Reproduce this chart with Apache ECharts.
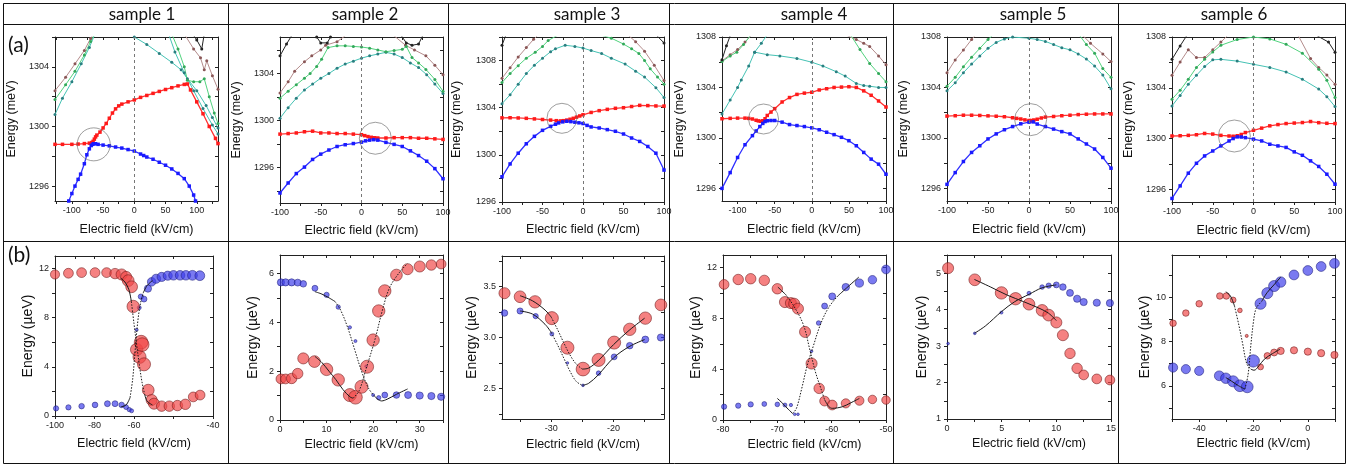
<!DOCTYPE html>
<html><head><meta charset="utf-8">
<script src="https://cdn.jsdelivr.net/npm/echarts@6/dist/echarts.min.js"></script>
<style>html,body{margin:0;padding:0;background:#fff}#c{width:1366px;height:466px}</style>
</head><body><div id="c"></div>
<script>
// ---------------- DATA ----------------
const SAMPLES = ['sample 1','sample 2','sample 3','sample 4','sample 5','sample 6'];
const ROW_LABELS = ['(a)','(b)'];
const X_NAME = 'Electric field (kV/cm)';
const YA_NAME = 'Energy (meV)';
const YB_NAME = 'Energy (\u00b5eV)';

// tick labels
const A_XLABELS = [-100,-50,0,50,100];
const A12_YLABELS = [1296,1300,1304];
const A36_YLABELS = [1296,1300,1304,1308];
const B1_XLABEL_AT = [-100,-85,-70,-40];
const B1_XLABEL_TEXT = ['-100','-80','-60','-40'];
const B1_XTICKS = [-100,-92.5,-85,-77.5,-70,-55,-40];
const B1_YLABELS = [0,4,8,12];
const B2_XLABELS = [0,10,20,30];
const B2_YLABELS = [0,2,4,6];
const B3_XLABELS = [-30,-20];
const B3_YLABELS = [2.5,3.0,3.5];
const B4_XLABELS = [-80,-70,-60,-50];
const B4_YLABELS = [0,4,8,12];
const B5_XLABELS = [0,5,10,15];
const B5_YLABELS = [1,2,3,4,5];
const B6_XLABELS = [-40,-20,0];
const B6_YLABELS = [6,8,10];

// ---- panel (a) sample 1 ----
const A1_RED = [[-127,1298.8],[-115,1298.8],[-100,1298.8],[-90,1298.82],[-80,1298.85],[-72,1298.88],[-68,1298.92],[-66,1299.0],[-64,1299.15],[-62,1299.3],[-60,1299.42],[-55,1299.62],[-50,1299.9],[-45,1300.2],[-40,1300.55],[-35,1300.9],[-30,1301.18],[-25,1301.38],[-20,1301.5],[-10,1301.65],[0,1301.78],[10,1301.95],[20,1302.08],[30,1302.22],[40,1302.35],[50,1302.48],[60,1302.6],[70,1302.72],[80,1302.82],[85,1302.85],[90,1302.45],[100,1301.65],[110,1300.85],[120,1300.0],[130,1299.2],[134,1298.85]];
const A1_BLUE = [[-105,1295.0],[-100,1295.5],[-95,1296.0],[-90,1296.45],[-86,1296.8],[-80,1297.5],[-76,1298.1],[-72,1298.5],[-69,1298.72],[-67,1298.8],[-65,1298.84],[-62,1298.84],[-58,1298.8],[-50,1298.75],[-40,1298.7],[-30,1298.62],[-20,1298.55],[-10,1298.45],[0,1298.35],[10,1298.15],[15,1298.05],[20,1297.95],[30,1297.8],[40,1297.6],[50,1297.4],[60,1297.15],[70,1296.85],[80,1296.5],[88,1296.0],[95,1295.4],[98,1295.0]];
const A1_BROWN_L = [[-127,1302.4],[-110,1303.3],[-95,1304.2],[-80,1305.1],[-70,1305.9],[-64,1306.3]];
const A1_GREEN_L = [[-127,1301.8],[-110,1302.8],[-95,1303.7],[-80,1304.8],[-70,1305.7],[-62,1306.3]];
const A1_TEAL_L = [[-127,1300.8],[-115,1301.9],[-100,1303.0],[-85,1304.2],[-72,1305.3],[-62,1306.3]];
const A1_TEAL_R1 = [[0,1306.0],[20,1305.5],[40,1304.9],[60,1304.3],[75,1303.8],[85,1303.2],[100,1302.4],[115,1301.4],[125,1300.6],[134,1299.9]];
const A1_GREEN_R = [[60,1306.2],[70,1305.2],[80,1304.0],[85,1303.1],[95,1303.0],[105,1303.0],[112,1303.2],[120,1302.0],[128,1300.9],[134,1300.2]];
const A1_TEAL_R2 = [[55,1306.2],[65,1305.0],[80,1303.6],[95,1302.4],[110,1301.2],[125,1300.1],[134,1299.5]];
const A1_BROWN_R = [[80,1306.2],[95,1305.2],[106,1304.6],[112,1303.8],[116,1304.4],[125,1303.4],[134,1302.5]];
const A1_BLACK = [[95,1306.1],[100,1305.8],[108,1305.2],[112,1306.2]];
const A1_CIRCLE = [[-65,1298.8]];

// ---- panel (a) sample 2 ----
const A2_RED = [[-100,1298.85],[-90,1298.9],[-80,1298.95],[-70,1299.05],[-60,1299.1],[-50,1298.95],[-40,1298.95],[-30,1298.9],[-20,1298.9],[-10,1298.85],[0,1298.8],[4,1298.72],[8,1298.64],[12,1298.58],[16,1298.54],[20,1298.52],[30,1298.52],[40,1298.55],[50,1298.55],[60,1298.55],[70,1298.5],[80,1298.5],[90,1298.45],[100,1298.4]];
const A2_BLUE = [[-100,1293.85],[-90,1294.7],[-80,1295.5],[-70,1296.05],[-60,1296.7],[-50,1297.15],[-40,1297.5],[-30,1297.8],[-20,1297.95],[-10,1298.05],[0,1298.17],[5,1298.28],[10,1298.34],[15,1298.38],[20,1298.34],[30,1298.15],[40,1297.98],[50,1297.8],[60,1297.43],[70,1297.03],[80,1296.55],[90,1295.92],[100,1295.06]];
const A2_BROWN_L = [[-100,1302.35],[-90,1303.3],[-82,1304.2],[-70,1305.0],[-61,1305.5],[-50,1306.0],[-44,1306.4],[-30,1306.7],[-20,1307.2]];
const A2_BROWN_R = [[40,1307.2],[54,1306.4],[65,1306.0],[79,1305.5],[90,1304.7],[100,1303.9]];
const A2_GREEN = [[-100,1301.9],[-90,1302.5],[-80,1303.05],[-70,1303.6],[-63,1304.0],[-55,1304.6],[-49,1305.2],[-41,1306.2],[-30,1306.35],[-20,1306.35],[-10,1306.3],[0,1306.25],[10,1306.15],[20,1306.0],[30,1305.85],[40,1305.95],[50,1306.05],[55,1306.3],[62,1305.35],[70,1304.9],[79,1304.35],[90,1303.5],[100,1302.5]];
const A2_TEAL = [[-100,1300.2],[-90,1301.1],[-80,1301.9],[-70,1302.6],[-60,1303.1],[-50,1303.6],[-40,1304.0],[-30,1304.45],[-20,1304.8],[-10,1305.05],[0,1305.3],[10,1305.5],[20,1305.65],[30,1305.8],[40,1305.65],[50,1305.35],[60,1304.9],[70,1304.5],[80,1303.9],[90,1303.1],[100,1302.3]];
const A2_BLACK_L = [[-100,1305.5],[-92,1306.5],[-85,1307.3]];
const A2_BLACK_M = [[-55,1307.1],[-50,1306.6],[-42,1306.6],[-38,1307.1]];
const A2_BLACK_R = [[48,1307.3],[55,1306.6],[62,1306.4],[70,1306.5],[75,1307.2]];
const A2_CIRCLE = [[17,1298.5]];

// ---- panel (a) sample 3 ----
const A3_RED = [[-100,1303.14],[-90,1303.15],[-80,1303.13],[-70,1303.1],[-60,1303.05],[-50,1303.0],[-40,1302.95],[-33,1302.9],[-28,1302.88],[-24,1302.9],[-20,1302.95],[-16,1303.02],[-12,1303.1],[-8,1303.2],[-4,1303.3],[0,1303.4],[10,1303.6],[20,1303.75],[30,1303.86],[40,1303.95],[50,1304.0],[60,1304.1],[70,1304.2],[80,1304.18],[90,1304.15],[100,1304.14]];
const A3_BLUE = [[-100,1298.14],[-90,1299.23],[-80,1300.14],[-70,1300.94],[-60,1301.57],[-50,1302.08],[-40,1302.42],[-34,1302.6],[-30,1302.71],[-25,1302.8],[-20,1302.85],[-15,1302.82],[-10,1302.77],[-5,1302.72],[0,1302.66],[5,1302.5],[10,1302.37],[20,1302.28],[30,1302.14],[40,1302.0],[50,1301.77],[60,1301.43],[70,1301.14],[80,1300.71],[90,1300.14],[100,1298.71]];
const A3_TEAL = [[-100,1304.34],[-90,1305.1],[-80,1306.0],[-70,1306.9],[-60,1307.6],[-50,1308.2],[-40,1308.75],[-34,1309.0],[-22,1309.3],[-10,1309.2],[0,1309.06],[10,1308.85],[23,1308.6],[35,1308.2],[52,1307.7],[65,1307.1],[76,1306.6],[90,1305.7],[100,1304.86]];
const A3_GREEN_L = [[-100,1306.14],[-90,1306.9],[-80,1307.57],[-70,1308.2],[-59,1308.7],[-50,1309.2],[-43,1309.7],[-30,1310.2]];
const A3_GREEN_R = [[20,1310.2],[35,1309.9],[50,1309.4],[60,1309.0],[69,1308.6],[76,1308.0],[83,1307.3],[92,1306.6],[100,1306.0]];
const A3_BROWN_L = [[-100,1306.5],[-90,1307.4],[-80,1308.3],[-70,1309.1],[-61,1309.8],[-55,1310.2]];
const A3_BROWN_R = [[55,1310.2],[65,1309.6],[76,1308.8],[88,1307.6],[100,1306.3]];
const A3_BLACK_L = [[-100,1309.3],[-95,1310.2]];
const A3_BLACK_R = [[90,1310.2],[100,1309.5]];
const A3_CIRCLE = [[-26,1303.1]];

// ---- panel (a) sample 4 ----
const A4_RED = [[-121,1301.52],[-110,1301.55],[-100,1301.57],[-90,1301.57],[-85,1301.55],[-80,1301.5],[-75,1301.4],[-72,1301.35],[-69,1301.32],[-66,1301.36],[-63,1301.52],[-60,1301.78],[-55,1302.05],[-50,1302.32],[-40,1302.85],[-30,1303.2],[-20,1303.45],[-10,1303.55],[0,1303.62],[10,1303.8],[20,1303.9],[30,1304.0],[40,1304.03],[50,1304.06],[60,1304.0],[70,1303.73],[80,1303.38],[90,1302.93],[100,1302.45]];
const A4_BLUE = [[-121,1296.0],[-110,1297.25],[-100,1298.45],[-90,1299.46],[-80,1300.18],[-75,1300.55],[-70,1300.9],[-66,1301.15],[-63,1301.3],[-60,1301.36],[-55,1301.38],[-50,1301.38],[-40,1301.25],[-30,1301.06],[-20,1300.98],[-10,1300.9],[0,1300.8],[10,1300.65],[20,1300.45],[30,1300.26],[40,1300.05],[50,1299.78],[60,1299.38],[70,1298.85],[80,1298.32],[90,1297.92],[100,1297.12]];
const A4_TEAL_LONG = [[-77,1306.8],[-60,1306.6],[-43,1306.5],[-20,1306.3],[0,1306.0],[15,1305.7],[33,1305.25],[45,1304.9],[60,1304.32],[70,1304.15],[78,1304.1],[90,1304.0],[100,1304.0]];
const A4_TEAL_L = [[-121,1301.9],[-110,1303.0],[-100,1304.0],[-95,1304.6],[-85,1305.7],[-77,1306.8],[-68,1307.5],[-61,1308.1]];
const A4_GREEN_L = [[-121,1306.05],[-110,1306.5],[-101,1306.8],[-92,1307.4],[-83,1308.1]];
const A4_BROWN_L = [[-121,1306.1],[-110,1306.6],[-100,1307.0],[-90,1307.6],[-82,1308.1]];
const A4_GREEN_R = [[53,1308.1],[65,1307.0],[78,1305.9],[90,1305.1],[100,1304.45]];
const A4_BROWN_R = [[48,1308.1],[60,1307.8],[70,1307.5],[78,1307.25],[90,1306.5],[100,1305.8]];
const A4_BLACK = [[-121,1306.2],[-115,1307.3],[-110,1308.1]];
const A4_CIRCLE = [[-65,1301.5]];

// ---- panel (a) sample 5 ----
const A5_RED = [[-100,1301.73],[-90,1301.76],[-80,1301.8],[-70,1301.8],[-60,1301.78],[-50,1301.75],[-40,1301.72],[-30,1301.68],[-20,1301.6],[-15,1301.55],[-10,1301.5],[-5,1301.43],[0,1301.38],[3,1301.38],[6,1301.42],[10,1301.48],[15,1301.58],[20,1301.65],[30,1301.7],[40,1301.76],[50,1301.8],[60,1301.85],[70,1301.88],[80,1301.9],[90,1301.9],[100,1301.9]];
const A5_BLUE = [[-100,1296.32],[-90,1297.25],[-80,1298.13],[-70,1298.85],[-60,1299.38],[-50,1299.92],[-40,1300.32],[-30,1300.65],[-20,1300.9],[-10,1301.12],[0,1301.25],[5,1301.27],[10,1301.1],[20,1300.9],[30,1300.7],[40,1300.5],[50,1300.32],[60,1299.92],[70,1299.52],[80,1299.12],[90,1298.45],[100,1297.6]];
const A5_TEAL = [[-100,1303.73],[-90,1304.37],[-80,1305.17],[-70,1305.86],[-60,1306.5],[-50,1307.1],[-40,1307.57],[-30,1307.85],[-20,1308.0],[0,1307.9],[10,1307.8],[20,1307.65],[30,1307.4],[40,1307.15],[50,1306.98],[60,1306.66],[70,1306.25],[80,1305.7],[90,1304.98],[100,1303.9]];
const A5_GREEN_L = [[-100,1304.1],[-90,1304.8],[-80,1305.65],[-70,1306.4],[-60,1307.1],[-50,1307.8],[-45,1308.1]];
const A5_GREEN_R = [[62,1308.1],[70,1307.4],[80,1306.72],[90,1305.5],[100,1304.8]];
const A5_BROWN_L = [[-100,1305.17],[-90,1306.18],[-80,1306.96],[-70,1307.8],[-66,1308.1]];
const A5_BROWN_R = [[66,1308.1],[75,1307.5],[90,1306.66],[100,1306.05]];
const A5_CIRCLE = [[2,1301.45]];

// ---- panel (a) sample 6 ----
const A6_RED = [[-100,1300.2],[-90,1300.22],[-80,1300.25],[-70,1300.3],[-60,1300.4],[-50,1300.35],[-40,1300.25],[-30,1300.2],[-25,1300.18],[-20,1300.22],[-15,1300.32],[-10,1300.47],[0,1300.65],[10,1300.82],[20,1301.0],[30,1301.1],[40,1301.18],[50,1301.22],[60,1301.26],[70,1301.34],[80,1301.25],[90,1301.2],[100,1301.18]];
const A6_BLUE = [[-100,1295.28],[-90,1296.27],[-80,1297.27],[-70,1298.05],[-60,1298.63],[-50,1299.02],[-40,1299.42],[-30,1299.81],[-25,1300.0],[-20,1300.13],[-15,1300.12],[-10,1300.07],[0,1299.95],[10,1299.81],[20,1299.55],[30,1299.42],[40,1299.3],[50,1298.95],[60,1298.68],[70,1298.24],[80,1297.8],[90,1297.19],[100,1296.4]];
const A6_TEAL = [[-100,1302.57],[-90,1303.4],[-80,1304.27],[-70,1304.98],[-60,1305.67],[-50,1306.2],[-40,1306.24],[-20,1306.1],[0,1305.85],[20,1305.6],[40,1305.24],[60,1304.67],[80,1303.9],[90,1303.3],[100,1302.52]];
const A6_GREEN = [[-100,1303.1],[-90,1303.8],[-80,1304.67],[-70,1305.6],[-60,1306.24],[-50,1306.82],[-40,1307.35],[-20,1307.8],[0,1308.0],[20,1307.85],[40,1307.42],[60,1306.72],[80,1305.46],[90,1304.6],[100,1303.23]];
const A6_BROWN_L = [[-100,1304.98],[-90,1306.03],[-80,1307.0],[-70,1306.38],[-60,1306.38],[-50,1307.0],[-40,1307.6],[-32,1308.1]];
const A6_BROWN_R = [[55,1308.1],[70,1306.3],[80,1305.6],[90,1305.0],[100,1304.27]];
const A6_BLACK_L = [[-100,1306.24],[-90,1307.3],[-82,1308.1]];
const A6_BLACK_R = [[78,1308.1],[92,1307.6],[100,1306.8]];
const A6_CIRCLE = [[-23.5,1300.2]];

// ---- panels (b): [field, energy, relative weight] ----
const B1_RED = [[-100,11.5,0.55],[-94.9,11.6,0.6],[-89.9,11.65,0.6],[-84.8,11.65,0.6],[-80.4,11.65,0.6],[-77.2,11.57,0.65],[-74.7,11.5,0.7],[-73,11.3,0.7],[-72.2,11.0,0.75],[-70.9,10.5,0.75],[-70.3,8.9,0.8],[-69,5.4,0.8],[-67.9,4.8,0.85],[-67.3,6.0,0.9],[-66.9,5.8,0.9],[-66.2,4.2,0.85],[-64.6,2.1,0.75],[-63.3,1.3,0.7],[-62.4,1.0,0.7],[-59.5,0.8,0.65],[-56.6,0.8,0.65],[-53.5,0.85,0.65],[-50.5,0.95,0.65],[-47.5,1.55,0.6],[-44.9,1.7,0.6],[-39.9,1.8,0.55]];
const B1_BLUE = [[-99.6,0.62,0.25],[-94.9,0.7,0.25],[-89.9,0.8,0.27],[-84.8,0.9,0.28],[-80.1,1.0,0.3],[-77.2,1.0,0.3],[-74.7,0.9,0.27],[-73,0.72,0.22],[-71.8,0.52,0.18],[-70.9,0.42,0.15],[-69,7.0,0.08],[-68,8.8,0.15],[-67.4,9.7,0.25],[-66.2,9.5,0.3],[-64.7,10.35,0.4],[-63.3,10.9,0.5],[-61.6,11.15,0.55],[-59.5,11.3,0.55],[-57.2,11.4,0.55],[-55,11.43,0.58],[-52.5,11.43,0.58],[-50.3,11.43,0.58],[-47.8,11.43,0.6],[-45,11.4,0.6],[-39.9,11.3,0.58]];
const B1_FIT_UP = [[-75,0.75],[-73,0.9],[-71.5,1.5],[-70.5,3.0],[-69.5,5.5],[-68.5,7.8],[-67.5,9.2],[-66.5,10.0],[-65,10.6],[-63,11.0]];
const B1_FIT_DOWN = [[-75,11.2],[-73.5,10.9],[-72,10.3],[-71,9.3],[-70,7.5],[-69,5.8],[-68,4.2],[-67,2.8],[-66,1.8],[-65,1.2],[-63,0.9]];

const B2_RED = [[0.2,1.68,0.6],[1.2,1.68,0.6],[2.5,1.7,0.65],[3.8,1.9,0.65],[5,2.52,0.7],[7.4,2.39,0.75],[10,2.07,0.8],[12.5,1.64,0.8],[15,1.02,0.85],[16.2,0.93,0.9],[17.5,1.36,0.85],[18.7,2.18,0.85],[20,3.27,0.8],[21.2,4.46,0.8],[22.5,5.28,0.8],[25,5.93,0.75],[27.4,6.17,0.7],[30,6.28,0.7],[32.5,6.34,0.65],[34.6,6.38,0.6]];
const B2_BLUE = [[0.2,5.63,0.4],[1.2,5.63,0.4],[2.5,5.63,0.4],[3.8,5.62,0.38],[5,5.57,0.35],[7.5,5.39,0.3],[10,5.12,0.25],[12.5,4.62,0.18],[15,3.79,0.1],[16.2,3.23,0.08],[18.5,2.2,0.05],[20,1.02,0.08],[21.2,0.91,0.18],[22.5,1.02,0.3],[25,1.02,0.35],[27.5,1.02,0.38],[30,1.0,0.4],[32.5,0.98,0.4],[34.6,0.95,0.4]];
const B2_FIT_BLUE = [[7.5,5.25],[9,5.15],[10.5,5.0],[11.8,4.85],[13,4.5],[14.5,3.8],[16,2.9],[17.5,2.0],[19,1.3],[20.4,0.95],[21.8,0.78],[23,0.85],[25,1.05],[27.4,1.27]];
const B2_FIT_RED = [[7.5,2.6],[9,2.35],[10.5,2.0],[12,1.65],[13.5,1.25],[15,0.95],[15.7,0.89],[17,1.2],[18.5,2.1],[20.4,3.3],[22,4.5],[23.5,5.4],[25.5,6.0],[27.4,6.41]];

const B3_RED = [[-37.5,3.435,0.7],[-35,3.40,0.75],[-32.6,3.35,0.8],[-29.9,3.19,0.85],[-27.4,2.90,0.85],[-24.9,2.69,0.9],[-22.4,2.78,0.85],[-19.9,2.95,0.85],[-17.4,3.08,0.8],[-14.9,3.19,0.8],[-12.4,3.32,0.75]];
const B3_BLUE = [[-37.5,3.24,0.35],[-35,3.26,0.32],[-32.5,3.21,0.25],[-29.9,3.035,0.15],[-27.4,2.75,0.05],[-24.9,2.53,0.05],[-22.4,2.65,0.2],[-19.9,2.81,0.3],[-17.4,2.92,0.35],[-14.9,2.98,0.38],[-12.4,3.0,0.4]];
const B3_FIT_RED = [[-35,3.41],[-33,3.36],[-31,3.27],[-30,3.2],[-29,3.08],[-28,2.95],[-27,2.83],[-26,2.74],[-25,2.69],[-24,2.70],[-22.5,2.77],[-20,2.93],[-17.5,3.07],[-15,3.19]];
const B3_FIT_BLUE = [[-35,3.26],[-33,3.23],[-31,3.13],[-30,3.05],[-29,2.93],[-28,2.8],[-27,2.67],[-26,2.57],[-25,2.53],[-24,2.55],[-22.5,2.63],[-20,2.8],[-17.5,2.91],[-15,2.98]];

const B4_RED = [[-79.8,10.68,0.6],[-77.2,11.07,0.65],[-74.9,11.13,0.65],[-72.4,11.0,0.65],[-70,10.34,0.65],[-68.6,9.29,0.7],[-67.5,9.21,0.7],[-66.9,9.16,0.7],[-66.2,8.77,0.7],[-64.9,6.94,0.7],[-63.7,4.45,0.7],[-62.3,2.49,0.65],[-61.3,1.49,0.6],[-59.9,1.18,0.6],[-57.4,1.31,0.55],[-54.9,1.52,0.55],[-52.5,1.62,0.5],[-50,1.57,0.5]];
const B4_BLUE = [[-79.8,1.05,0.25],[-77.2,1.13,0.25],[-74.9,1.23,0.25],[-72.4,1.26,0.22],[-70,1.23,0.2],[-68.6,1.18,0.15],[-67.5,1.18,0.1],[-66.8,0.45,0.05],[-66.2,0.45,0.05],[-63.7,5.42,0.05],[-62.4,7.64,0.2],[-61.3,8.98,0.3],[-59.9,9.74,0.38],[-57.4,10.47,0.42],[-54.9,10.79,0.48],[-52.5,11.05,0.5],[-50,11.86,0.52]];
const B4_FIT_BLUE = [[-70,1.7],[-69,1.3],[-68,0.85],[-67.2,0.52],[-66.5,0.9],[-65.5,2.5],[-64.5,4.3],[-63.4,5.8],[-62,7.6],[-60.5,8.9],[-58.8,9.8],[-57,10.5],[-55,11.26]];
const B4_FIT_RED = [[-69.9,10.47],[-68.5,9.9],[-67,9.0],[-65.2,7.5],[-64,5.5],[-63,3.8],[-62,2.5],[-61.3,1.6],[-60.5,1.05],[-59.9,0.92],[-58,1.05],[-56.5,1.35],[-54.9,1.7]];

const B5_RED = [[0.1,5.14,0.7],[2.54,4.82,0.75],[4.98,4.46,0.8],[6.27,4.3,0.8],[7.5,4.15,0.75],[8.7,3.98,0.75],[9.3,3.85,0.75],[10.0,3.65,0.7],[10.6,3.3,0.7],[11.25,2.8,0.65],[11.9,2.39,0.65],[12.5,2.21,0.6],[13.7,2.1,0.6],[14.9,2.07,0.6]];
const B5_BLUE = [[0.1,3.07,0.05],[2.54,3.35,0.05],[4.98,3.92,0.08],[7.5,4.45,0.15],[8.7,4.62,0.2],[9.3,4.66,0.25],[10.0,4.68,0.3],[10.6,4.62,0.35],[11.25,4.46,0.38],[11.9,4.3,0.4],[12.5,4.21,0.4],[13.7,4.19,0.4],[14.9,4.18,0.4]];
const B5_FIT_RED = [[2.5,4.83],[4,4.62],[5.5,4.4],[7,4.22],[8.5,4.03],[9.3,3.9],[10,3.7]];
const B5_FIT_BLUE = [[2.5,3.35],[3.5,3.55],[5,3.95],[6.2,4.22],[7.5,4.42],[8.7,4.6],[10,4.68]];

const B6_RED = [[-49.6,8.82,0.35],[-44.9,9.28,0.35],[-40,9.7,0.35],[-32.4,10.05,0.35],[-30,10.05,0.35],[-27.5,9.87,0.3],[-25,9.4,0.2],[-22.5,8.25,0.08],[-17.4,6.85,0.3],[-14.9,7.35,0.35],[-12.4,7.5,0.38],[-10,7.57,0.4],[-5.1,7.6,0.4],[0,7.54,0.4],[4.9,7.47,0.4],[9.8,7.39,0.4]];
const B6_BLUE = [[-49.6,6.82,0.55],[-44.9,6.75,0.55],[-40,6.67,0.55],[-32.6,6.45,0.6],[-30.2,6.34,0.65],[-27.5,6.2,0.7],[-25,6.0,0.75],[-22.3,5.95,0.75],[-20.1,7.12,0.8],[-17.4,9.7,0.7],[-14.9,10.18,0.7],[-12.4,10.5,0.7],[-10,10.68,0.65],[-5.1,11.0,0.6],[0,11.2,0.6],[4.9,11.38,0.6],[9.8,11.52,0.6]];
const B6_FIT_RED = [[-30.2,10.24],[-28.5,10.05],[-27,9.6],[-25.5,8.8],[-24,7.9],[-22.5,7.0],[-21,6.75],[-19.8,6.7],[-18,6.9],[-16,7.2],[-13,7.45],[-10.2,7.65]];
const B6_FIT_BLUE = [[-30.2,6.37],[-28,6.2],[-25.5,6.0],[-23.2,5.85],[-22,6.5],[-21,7.8],[-20,8.9],[-19,9.5],[-17,9.8],[-15,10.2],[-12.5,10.55],[-10,10.9]];

// ---------------- BUILD ----------------
const FONT = 'Liberation Sans';
const C = {
  red:'#ff1a1a', blue:'#1a1aff',
  brown:'#b48c8c', brownM:'#8a5656',
  green:'#52d27e', greenM:'#33a85a',
  teal:'#45c2b4', tealM:'#2a7f80',
  black:'#222'
};
const grids=[], xAxes=[], yAxes=[], series=[];

function minorTicks(labels, min, max){
  const step = labels.length>1 ? (labels[1]-labels[0])/2 : 1;
  const out=[];
  let v = Math.ceil((min-1e-9)/step)*step;
  for(; v<=max+1e-9; v+=step) out.push(+v.toFixed(6));
  return out;
}
function addPanel(p){
  const gi = grids.length;
  grids.push({left:p.l, top:p.t, width:p.w, height:p.h, containLabel:false});
  const lineS = {show:true, onZero:false, lineStyle:{color:'#222', width:1}};
  const xt = p.xTicks || minorTicks(p.xl, p.x[0], p.x[1]);
  const yt = minorTicks(p.yl, p.y[0], p.y[1]);
  const bx = xAxes.length;
  xAxes.push({type:'value', gridIndex:gi, position:'bottom', min:p.x[0], max:p.x[1],
    axisLine:lineS, axisTick:{show:true, inside:false, length:3, customValues:xt, lineStyle:{color:'#222'}},
    axisLabel:{show:true, customValues:p.xl, margin:5, fontSize:9, fontFamily:FONT, color:'#222',
      formatter:p.xFmt || (v=>String(v))},
    splitLine:{show:false},
    name:X_NAME, nameLocation:'middle', nameGap:p.xGap, nameTextStyle:{fontFamily:FONT, fontSize:12.5, color:'#111', verticalAlign:'top'}});
  xAxes.push({type:'value', gridIndex:gi, position:'top', min:p.x[0], max:p.x[1],
    axisLine:lineS, axisTick:{show:true, inside:true, length:3, customValues:xt, lineStyle:{color:'#222'}},
    axisLabel:{show:false}, splitLine:{show:false}});
  const ly = yAxes.length;
  yAxes.push({type:'value', gridIndex:gi, position:'left', min:p.y[0], max:p.y[1],
    axisLine:lineS, axisTick:{show:true, inside:false, length:3, customValues:yt, lineStyle:{color:'#222'}},
    axisLabel:{show:true, customValues:p.yl, margin:6, fontSize:9, fontFamily:FONT, color:'#222',
      formatter:p.yFmt || (v=>String(v))},
    splitLine:{show:false},
    name:p.yName, nameLocation:'middle', nameGap:p.yGap, nameTextStyle:{fontFamily:FONT, fontSize:p.yNameSize, color:'#111'}});
  yAxes.push({type:'value', gridIndex:gi, position:'right', min:p.y[0], max:p.y[1],
    axisLine:lineS, axisTick:{show:true, inside:true, length:3, customValues:yt, lineStyle:{color:'#222'}},
    axisLabel:{show:false}, splitLine:{show:false}});
  return {x:bx, y:ly};
}
function lineS(ax, data, color, mcolor, width, symbol, size){
  series.push({type:'line', xAxisIndex:ax.x, yAxisIndex:ax.y, data:data, clip:true, silent:true,
    symbol:symbol||'circle', symbolSize:size||3, showSymbol:true,
    lineStyle:{color:color, width:width||1}, itemStyle:{color:mcolor||color}, z:3});
}
function topPanel(p, d){
  const ax = addPanel(Object.assign({yName:YA_NAME, yNameSize:12.5, xl:A_XLABELS}, p));
  series.push({type:'line', xAxisIndex:ax.x, yAxisIndex:ax.y, data:[], silent:true, z:1,
    markLine:{silent:true, symbol:['none','none'], label:{show:false},
      lineStyle:{type:[3,3], color:'#777', width:1}, data:[{xAxis:0}], animation:false}});
  d.brown.forEach(a=>lineS(ax,a,C.brown,C.brownM,1));
  d.teal.forEach(a=>lineS(ax,a,C.teal,C.tealM,1));
  d.green.forEach(a=>lineS(ax,a,C.green,C.greenM,1));
  (d.black||[]).forEach(a=>lineS(ax,a,C.black,C.black,1));
  lineS(ax,d.red,'#ff3030',C.red,1.3,'rect',3.5);
  lineS(ax,d.blue,'#3030ff',C.blue,1.3,'rect',3.5);
  series.push({type:'scatter', xAxisIndex:ax.x, yAxisIndex:ax.y, data:d.circle, symbol:'circle',
    symbolSize:d.circleSize, silent:true, z:5,
    itemStyle:{color:'rgba(0,0,0,0)', borderColor:'#666', borderWidth:0.8}});
}
function fitSeries(ax, pts, d0, d1){
  const segs = [];
  if(d0===undefined){ segs.push([pts,'solid']); }
  else {
    const a = pts.filter(q=>q[0]<=d0), b = pts.filter(q=>q[0]>=d0 && q[0]<=d1), c = pts.filter(q=>q[0]>=d1);
    if(a.length>1) segs.push([a,'solid']);
    if(b.length>1) segs.push([b,[1.5,1.5]]);
    if(c.length>1) segs.push([c,'solid']);
  }
  segs.forEach(s=>series.push({type:'line', xAxisIndex:ax.x, yAxisIndex:ax.y, data:s[0], smooth:0.35,
    symbol:'none', silent:true, z:6, lineStyle:{color:'#1a1a1a', width:1, type:s[1]}}));
}
function bubbles(ax, data, fill, border, z){
  series.push({type:'scatter', xAxisIndex:ax.x, yAxisIndex:ax.y, data:data, symbol:'circle',
    symbolSize:v=>2+13*v[2], silent:true, z:z,
    itemStyle:{color:fill, borderColor:border, borderWidth:0.7}});
}
function botPanel(p, d){
  const ax = addPanel(Object.assign({yName:YB_NAME, yNameSize:14}, p));
  bubbles(ax, d.blue, 'rgba(60,60,235,0.85)', '#20207a', 3);
  bubbles(ax, d.red, 'rgba(240,70,70,0.85)', '#6e1818', 4);
  d.fits.forEach(f=>fitSeries(ax, f[0], f[1], f[2]));
}

// (a) row
topPanel({l:55,t:37,w:163,h:164,x:[-127,134],y:[1295,1306],yl:A12_YLABELS,yGap:37,xGap:22},
  {red:A1_RED, blue:A1_BLUE, brown:[A1_BROWN_L,A1_BROWN_R], teal:[A1_TEAL_L,A1_TEAL_R1,A1_TEAL_R2], green:[A1_GREEN_L,A1_GREEN_R], black:[A1_BLACK], circle:A1_CIRCLE, circleSize:33});
topPanel({l:280,t:37,w:163,h:166,x:[-100,100],y:[1293,1307.1],yl:A12_YLABELS,yGap:37,xGap:21},
  {red:A2_RED, blue:A2_BLUE, brown:[A2_BROWN_L,A2_BROWN_R], teal:[A2_TEAL], green:[A2_GREEN], black:[A2_BLACK_L,A2_BLACK_M,A2_BLACK_R], circle:A2_CIRCLE, circleSize:32});
topPanel({l:502,t:37,w:162,h:165,x:[-100,100],y:[1296,1310],yl:A36_YLABELS,yGap:39,xGap:21.5},
  {red:A3_RED, blue:A3_BLUE, brown:[A3_BROWN_L,A3_BROWN_R], teal:[A3_TEAL], green:[A3_GREEN_L,A3_GREEN_R], black:[A3_BLACK_L,A3_BLACK_R], circle:A3_CIRCLE, circleSize:30});
topPanel({l:722,t:37,w:164,h:164,x:[-121,100],y:[1295,1308],yl:A36_YLABELS,yGap:36,xGap:22},
  {red:A4_RED, blue:A4_BLUE, brown:[A4_BROWN_L,A4_BROWN_R], teal:[A4_TEAL_L,A4_TEAL_LONG], green:[A4_GREEN_L,A4_GREEN_R], black:[A4_BLACK], circle:A4_CIRCLE, circleSize:30});
topPanel({l:947,t:37,w:164,h:164,x:[-100,100],y:[1295,1308],yl:A36_YLABELS,yGap:37,xGap:22},
  {red:A5_RED, blue:A5_BLUE, brown:[A5_BROWN_L,A5_BROWN_R], teal:[A5_TEAL], green:[A5_GREEN_L,A5_GREEN_R], circle:A5_CIRCLE, circleSize:32});
topPanel({l:1172,t:37,w:163,h:165,x:[-100,100],y:[1295,1308],yl:A36_YLABELS,yGap:37,xGap:22},
  {red:A6_RED, blue:A6_BLUE, brown:[A6_BROWN_L,A6_BROWN_R], teal:[A6_TEAL], green:[A6_GREEN], black:[A6_BLACK_L,A6_BLACK_R], circle:A6_CIRCLE, circleSize:32});

// (b) row
botPanel({l:55,t:256,w:158,h:160,x:[-100,-40],y:[0,13],xl:B1_XLABEL_AT,xTicks:B1_XTICKS,
  xFmt:v=>B1_XLABEL_TEXT[B1_XLABEL_AT.indexOf(v)], yl:B1_YLABELS, yGap:20, xGap:21.5},
  {red:B1_RED, blue:B1_BLUE, fits:[[B1_FIT_UP,-71.5,-66.5],[B1_FIT_DOWN,-71,-66]]});
botPanel({l:280,t:255,w:163,h:165,x:[0,35],y:[0,6.75],xl:B2_XLABELS,yl:B2_YLABELS,yGap:20,xGap:18},
  {red:B2_RED, blue:B2_BLUE, fits:[[B2_FIT_BLUE,11.8,20.4],[B2_FIT_RED,15.7,27.4]]});
botPanel({l:502,t:256,w:162,h:163,x:[-37.9,-11.9],y:[2.2,3.8],xl:B3_XLABELS,yl:B3_YLABELS,
  yFmt:v=>v.toFixed(1), yGap:22, xGap:19},
  {red:B3_RED, blue:B3_BLUE, fits:[[B3_FIT_RED,-30,-25],[B3_FIT_BLUE,-30,-25]]});
botPanel({l:723,t:255,w:163,h:165,x:[-80,-50],y:[0,13],xl:B4_XLABELS,yl:B4_YLABELS,yGap:19,xGap:18},
  {red:B4_RED, blue:B4_BLUE, fits:[[B4_FIT_BLUE,-67.2,-58.8],[B4_FIT_RED,-68.5,-61.3]]});
botPanel({l:947,t:255,w:164,h:164,x:[0,15],y:[1,5.5],xl:B5_XLABELS,yl:B5_YLABELS,yGap:18,xGap:18.5},
  {red:B5_RED, blue:B5_BLUE, fits:[[B5_FIT_RED],[B5_FIT_BLUE]]});
botPanel({l:1172,t:255,w:163,h:164,x:[-50,10],y:[4.5,11.9],xl:B6_XLABELS,yl:B6_YLABELS,yGap:18,xGap:18.5},
  {red:B6_RED, blue:B6_BLUE, fits:[[B6_FIT_RED,-27,-21],[B6_FIT_BLUE,-23.2,-17]]});

// table frame + header text
const COLS = [3.5,228.5,448.5,669.5,893.5,1118.5,1345.5];
const ROWS = [3.5,24.5,241.5,463.5];
const HEAD_X = [142,365,587,814,1033,1234];
const graphic = [];
COLS.forEach(x=>graphic.push({type:'line', shape:{x1:x,y1:ROWS[0],x2:x,y2:ROWS[3]}, style:{stroke:'#111',lineWidth:1}, silent:true}));
ROWS.forEach(y=>graphic.push({type:'line', shape:{x1:COLS[0],y1:y,x2:COLS[6],y2:y}, style:{stroke:'#111',lineWidth:1}, silent:true}));
SAMPLES.forEach((s,i)=>graphic.push({type:'text', x:HEAD_X[i], y:14.5, style:{text:s, fill:'#111', font:'17px Lato', align:'center', verticalAlign:'middle'}, silent:true}));
graphic.push({type:'text', x:8, y:45, style:{text:ROW_LABELS[0], fill:'#111', font:'21px Lato', align:'left', verticalAlign:'middle'}, silent:true});
graphic.push({type:'text', x:8, y:255, style:{text:ROW_LABELS[1], fill:'#111', font:'21px Lato', align:'left', verticalAlign:'middle'}, silent:true});

const chart = echarts.init(document.getElementById('c'), null, {renderer:'canvas'});
chart.setOption({animation:false, backgroundColor:'#fff', grid:grids, xAxis:xAxes, yAxis:yAxes, series:series, graphic:graphic});
</script>
</body></html>
